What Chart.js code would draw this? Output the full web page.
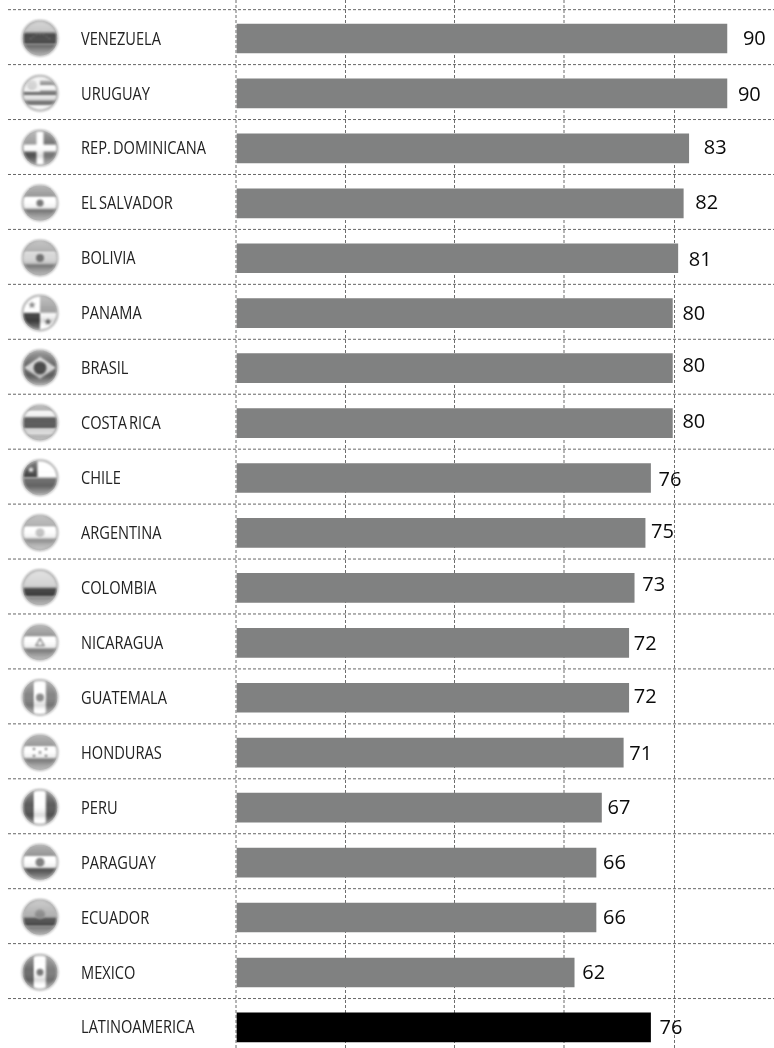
<!DOCTYPE html>
<html>
<head>
<meta charset="utf-8">
<style>html,body{margin:0;padding:0;background:#fff}canvas{display:block}</style>
<script src="https://cdn.jsdelivr.net/npm/chart.js@4"></script>
</head>
<body>
<canvas id="c" width="774" height="1048"></canvas>
<script>
const categories = ['VENEZUELA','URUGUAY','REP. DOMINICANA','EL SALVADOR','BOLIVIA','PANAMA','BRASIL','COSTA RICA','CHILE','ARGENTINA','COLOMBIA','NICARAGUA','GUATEMALA','HONDURAS','PERU','PARAGUAY','ECUADOR','MEXICO','LATINOAMERICA'];
const values = [90,90,83,82,81,80,80,80,76,75,73,72,72,71,67,66,66,62,76];
const gridTicks = [0,20.07,40.14,60.2,80.35];

const GRAY = '#808181';
const barColors = categories.map((_, i) => i === categories.length - 1 ? '#000000' : GRAY);
const labelGap = [16,11,15,12,11,10,10,10,8,6,8,5,5,6,6,7,7,8,9];
const labelLift = [0,1,-1,-1,2,1,-2,-1,2,-1,-3,1,-1,1,0,0,0,0,0];

function rectFlag(c, r, bands, vertical) {
  const total = bands.reduce((s, b) => s + b[0], 0);
  let p = -r;
  bands.forEach(b => {
    const size = b[0] / total * 2 * r;
    c.fillStyle = b[1];
    if (vertical) c.fillRect(p, -r, size + .5, 2 * r);
    else c.fillRect(-r, p, 2 * r, size + .5);
    p += size;
  });
}
function dot(c, x, y, r, col) { c.fillStyle = col; c.beginPath(); c.arc(x, y, r, 0, 7); c.fill(); }
function star(c, x, y, r, col) {
  c.fillStyle = col; c.beginPath();
  for (let i = 0; i < 10; i++) {
    const a = -Math.PI / 2 + i * Math.PI / 5, q = i % 2 ? r * .42 : r;
    c.lineTo(x + q * Math.cos(a), y + q * Math.sin(a));
  }
  c.closePath(); c.fill();
}
const flags = [
  (c, r) => { rectFlag(c, r, [[1,'#c0c0c0'],[1,'#4c4c4c'],[1,'#7c7c7c']]);
    for (let i = 0; i < 7; i++) { const a = Math.PI * (1.22 + i * .56 / 6); dot(c, 12 * Math.cos(a), 8 + 12 * Math.sin(a), .55, '#bbb'); } },
  (c, r) => { rectFlag(c, r, [[1,'#f4f4f4'],[1,'#8a8a8a'],[1,'#f4f4f4'],[1,'#777'],[1,'#f4f4f4'],[1,'#777'],[1,'#f4f4f4']]);
    c.fillStyle = '#f2f2f2'; c.fillRect(-r, -r, r, r * .9); dot(c, -8, -8, 5, '#cfcfcf'); },
  (c, r) => { c.fillStyle = '#999'; c.fillRect(-r, -r, r, r); c.fillStyle = '#6f6f6f'; c.fillRect(0, -r, r, r);
    c.fillStyle = '#5c5c5c'; c.fillRect(-r, 0, r, r); c.fillStyle = '#858585'; c.fillRect(0, 0, r, r);
    c.fillStyle = '#fff'; c.fillRect(-3.5, -r, 7, 2 * r); c.fillRect(-r, -3.5, 2 * r, 7); },
  (c, r) => { rectFlag(c, r, [[1,'#8f8f8f'],[1,'#fff'],[1,'#8a8a8a']]); dot(c, 0, 0, 3.6, '#777'); },
  (c, r) => { rectFlag(c, r, [[1,'#a9a9a9'],[1,'#d8d8d8'],[1,'#8c8c8c']]); dot(c, 0, 0, 4, '#6f6f6f'); },
  (c, r) => { c.fillStyle = '#fff'; c.fillRect(-r, -r, 2 * r, 2 * r); c.fillStyle = '#a3a3a3'; c.fillRect(0, -r, r, r);
    c.fillStyle = '#444'; c.fillRect(-r, 0, r, r); star(c, -8, -8, 4, '#777'); star(c, 8, 9, 4, '#666'); },
  (c, r) => { c.fillStyle = '#6a6a6a'; c.fillRect(-r, -r, 2 * r, 2 * r); c.fillStyle = '#d8d8d8';
    c.beginPath(); c.moveTo(-16, 0); c.lineTo(0, -11); c.lineTo(16, 0); c.lineTo(0, 11); c.closePath(); c.fill(); dot(c, 0, 0, 6.5, '#4a4a4a'); },
  (c, r) => rectFlag(c, r, [[1,'#a0a0a0'],[1,'#f2f2f2'],[2,'#5c5c5c'],[1,'#f2f2f2'],[1,'#a0a0a0']]),
  (c, r) => { c.fillStyle = '#fff'; c.fillRect(-r, -r, 2 * r, r); c.fillStyle = '#474747'; c.fillRect(-r, -r, r * .85, r);
    c.fillStyle = '#707070'; c.fillRect(-r, 0, 2 * r, r); star(c, -9, -8, 3.5, '#eee'); },
  (c, r) => { rectFlag(c, r, [[1,'#a8a8a8'],[1,'#fff'],[1,'#a8a8a8']]); dot(c, 0, 0, 4.5, '#c4c4c4'); },
  (c, r) => rectFlag(c, r, [[2,'#d4d4d4'],[1,'#454545'],[1,'#8a8a8a']]),
  (c, r) => { rectFlag(c, r, [[1,'#8f8f8f'],[1,'#fff'],[1,'#8f8f8f']]); c.strokeStyle = '#777'; c.lineWidth = 1.3; c.beginPath(); c.moveTo(-4, 3); c.lineTo(0, -4); c.lineTo(4, 3); c.closePath(); c.stroke(); },
  (c, r) => { rectFlag(c, r, [[1,'#858585'],[1,'#fff'],[1,'#858585']], true); dot(c, 0, 0, 4, '#8a8a8a'); },
  (c, r) => { rectFlag(c, r, [[1,'#8f8f8f'],[1,'#fff'],[1,'#8f8f8f']]);
    [[-6,-3.5],[6,-3.5],[0,0],[-6,3.5],[6,3.5]].forEach(p => dot(c, p[0], p[1], 1.2, '#666')); },
  (c, r) => rectFlag(c, r, [[1,'#5c5c5c'],[1,'#fff'],[1,'#5c5c5c']], true),
  (c, r) => { rectFlag(c, r, [[1,'#8a8a8a'],[1,'#fff'],[1,'#5e5e5e']]); dot(c, 0, 0, 4.5, '#808080'); },
  (c, r) => { rectFlag(c, r, [[2,'#b3b3b3'],[1,'#555'],[1,'#7a7a7a']]); dot(c, 0, -3, 5, '#8c8c8c'); },
  (c, r) => { rectFlag(c, r, [[1,'#6d6d6d'],[1,'#fff'],[1,'#7f7f7f']], true); dot(c, 0, 0, 3.5, '#777'); }
];

const flagPlugin = {
  id: 'flags',
  afterDraw(chart) {
    const c = chart.ctx, y = chart.scales.y, r = 17.5;
    flags.forEach((draw, i) => {
      const cy = y.getPixelForValue(i) - .3;
      c.save();
      c.translate(40, cy);
      c.filter = 'blur(0.8px)';
      c.beginPath(); c.arc(0, 0, r, 0, 7); c.clip();
      draw(c, r);
      const g = c.createLinearGradient(0, -r, 0, r);
      g.addColorStop(0, 'rgba(255,255,255,.35)');
      g.addColorStop(.42, 'rgba(255,255,255,0)');
      g.addColorStop(.72, 'rgba(0,0,0,.14)');
      g.addColorStop(.85, 'rgba(255,255,255,.15)');
      g.addColorStop(1, 'rgba(255,255,255,.4)');
      c.fillStyle = g; c.fillRect(-r, -r, 2 * r, 2 * r);
      c.restore();
      c.save();
      c.translate(40, cy);
      c.filter = 'blur(0.8px)';
      c.strokeStyle = '#b0b0b0'; c.lineWidth = 2;
      c.beginPath(); c.arc(0, 0, r, 0, 7); c.stroke();
      c.restore();
    });
  }
};
const rowLinePlugin = {
  id: 'rowLines',
  beforeDatasetsDraw(chart) {
    const c = chart.ctx, y = chart.scales.y;
    c.save();
    c.strokeStyle = '#666'; c.lineWidth = 1; c.setLineDash([3, 2]);
    categories.forEach((_, i) => {
      const p = y.getPixelForValue(i - .525);
      c.beginPath(); c.moveTo(8, p); c.lineTo(774, p); c.stroke();
    });
    c.restore();
  }
};
const textPlugin = {
  id: 'texts',
  afterDatasetsDraw(chart) {
    const c = chart.ctx, x = chart.scales.x, y = chart.scales.y;
    c.save();
    c.font = '20px "Open Sans"'; c.fillStyle = '#0a0a0a'; c.textBaseline = 'middle'; c.textAlign = 'left';
    values.forEach((v, i) => c.fillText(String(v), x.getPixelForValue(v) + labelGap[i], y.getPixelForValue(i) + labelLift[i] + .5));
    c.restore();
    c.save();
    c.font = '400 18.5px "Open Sans"'; c.fillStyle = '#222'; c.textBaseline = 'middle'; c.textAlign = 'left';
    c.wordSpacing = '-2px';
    const sx = 0.79;
    categories.forEach((t, i) => {
      c.save();
      c.translate(81, y.getPixelForValue(i) + .8);
      c.scale(sx, 1);
      c.fillText(t, 0, 0);
      c.restore();
    });
    c.restore();
  }
};

new Chart(document.getElementById('c'), {
  type: 'bar',
  data: {
    datasets: [{
      data: values.map((v, i) => ({ x: v, y: i })),
      backgroundColor: barColors,
      barThickness: 29,
      borderWidth: 0
    }]
  },
  plugins: [rowLinePlugin, textPlugin, flagPlugin],
  options: {
    indexAxis: 'y',
    responsive: false,
    animation: false,
    layout: { padding: { left: 81, right: 0, top: 0, bottom: 0 } },
    plugins: { legend: { display: false }, tooltip: { enabled: false } },
    scales: {
      x: {
        type: 'linear', min: 0, max: 98.63,
        afterBuildTicks(s) { s.ticks = gridTicks.map(v => ({ value: v })); },
        afterFit(s) { s.height = 0; s.paddingLeft = s.paddingRight = 0; },
        border: { display: false, dash: [3, 2] },
        ticks: { display: false },
        grid: {
          drawTicks: false,
          color: ctx => (ctx.index === 0 || ctx.index === 3) ? '#b5b5b5' : '#6e6e6e',
          lineWidth: ctx => (ctx.index === 0 || ctx.index === 3) ? 2 : 1
        }
      },
      y: {
        type: 'linear', offset: false, min: -0.7008, max: 18.375, reverse: true,
        afterFit(s) { s.width = 155; s.paddingTop = s.paddingBottom = 0; },
        afterBuildTicks(s) { s.ticks = categories.map((_, i) => ({ value: i })); },
        border: { display: false },
        grid: { display: false, offset: false },
        ticks: { display: false, autoSkip: false }
      }
    }
  }
});
</script>
</body>
</html>
